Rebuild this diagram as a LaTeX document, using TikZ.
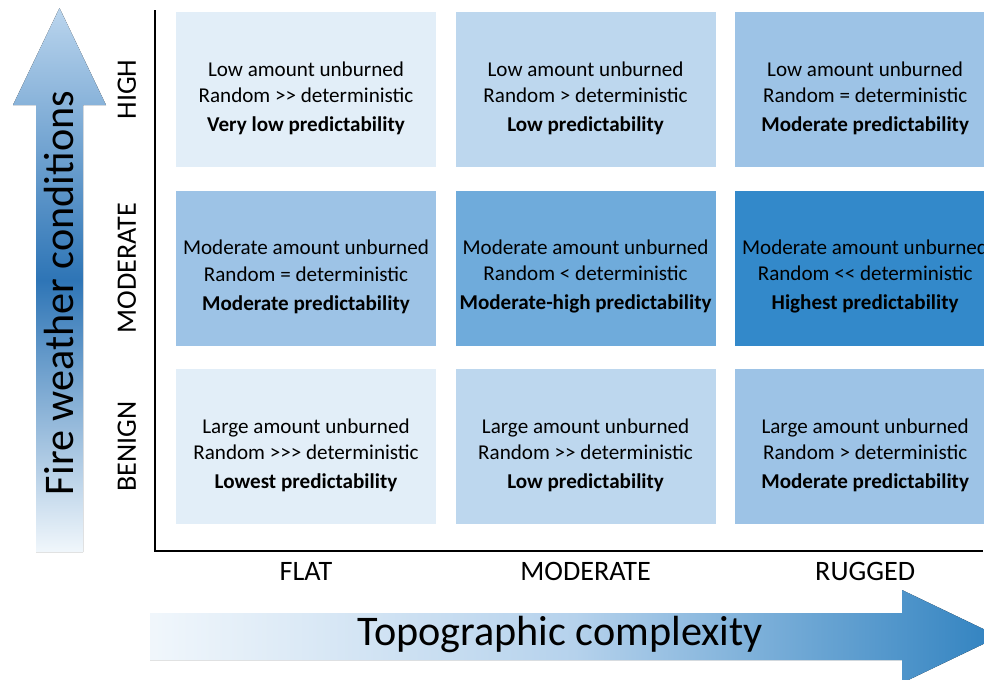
\documentclass[tikz,border=0pt]{standalone}
\usepackage{fontspec}
\setmainfont{Carlito}[Ligatures=TeXOff]
\usetikzlibrary{positioning}

\definecolor{pale}{HTML}{E2EEF8}
\definecolor{light}{HTML}{BDD7EE}
\definecolor{mid}{HTML}{9DC3E6}
\definecolor{deep}{HTML}{6FABDB}
\definecolor{darkest}{HTML}{3389CA}
\definecolor{shaft}{HTML}{2E75B6}

\newcommand{\cellinfo}[3]{#1\\#2\\[2pt]\textbf{#3}}

\begin{document}
\begin{tikzpicture}[x=0.025cm,y=-0.025cm,node distance=4.4625cm and 6.9875cm,on grid,
  cell/.style={minimum width=6.5cm,minimum height=3.875cm,inner sep=0pt},
  celltext/.style={align=center,yshift=-0.22cm,font=\fontsize{15}{18.6}\selectfont},
  level/.style={font=\fontsize{20}{24}\selectfont},
  axisname/.style={font=\fontsize{30}{36}\selectfont}]
\useasboundingbox (0,0) rectangle (984,679);
\clip (0,0) rectangle (984,679);

% shaded arrows
\fill[top color=mid!70, bottom color=pale!50, middle color=shaft]
  (36,552) -- (36,105) -- (13,105) -- (59.5,8) -- (106,105) -- (83,105) -- (83,552) -- cycle;
\fill[left color=pale!50, right color=darkest!95!black, middle color=mid!75]
  (150,613) -- (902,613) -- (902,590) -- (999,636.5) -- (902,683) -- (902,660) -- (150,660) -- cycle;
\node[axisname, rotate=90] (weather) at (59.5,293) {Fire weather conditions};
\node[axisname] (topo) at (560,634) {Topographic complexity};

% grid of cells
\node[cell, fill=pale, label={[celltext]center:\cellinfo{Low amount unburned}{Random >> deterministic}{Very low predictability}}]
  (h_flat) at (306,89.5) {};
\node[cell, fill=light, label={[celltext]center:\cellinfo{Low amount unburned}{Random > deterministic}{Low predictability}}]
  (h_mod) [right=of h_flat] {};
\node[cell, fill=mid, label={[celltext]center:\cellinfo{Low amount unburned}{Random = deterministic}{Moderate predictability}}]
  (h_rug) [right=of h_mod] {};

\node[cell, fill=mid, label={[celltext]center:\cellinfo{Moderate amount unburned}{Random = deterministic}{Moderate predictability}}]
  (m_flat) [below=of h_flat] {};
\node[cell, fill=deep, label={[celltext]center:\cellinfo{Moderate amount unburned}{Random < deterministic}{Moderate-high predictability}}]
  (m_mod) [right=of m_flat] {};
\node[cell, fill=darkest, label={[celltext]center:\cellinfo{Moderate amount unburned}{Random << deterministic}{Highest predictability}}]
  (m_rug) [right=of m_mod] {};

\node[cell, fill=pale, label={[celltext]center:\cellinfo{Large amount unburned}{Random >>> deterministic}{Lowest predictability}}]
  (b_flat) [below=of m_flat] {};
\node[cell, fill=light, label={[celltext]center:\cellinfo{Large amount unburned}{Random >> deterministic}{Low predictability}}]
  (b_mod) [right=of b_flat] {};
\node[cell, fill=mid, label={[celltext]center:\cellinfo{Large amount unburned}{Random > deterministic}{Moderate predictability}}]
  (b_rug) [right=of b_mod] {};

% axis levels
\node[level, rotate=90] (l_high) [left=4.475cm of h_flat] {HIGH};
\node[level, rotate=90] (l_mod) [left=4.475cm of m_flat] {MODERATE};
\node[level, rotate=90] (l_benign) [left=4.475cm of b_flat] {BENIGN};
\node[level] (c_flat) [below=3.11cm of b_flat] {FLAT};
\node[level] (c_mod) [below=3.11cm of b_mod] {MODERATE};
\node[level] (c_rug) [below=3.11cm of b_rug] {RUGGED};

\coordinate (top) at (155,10);
\coordinate (origin) at (155,551);
\coordinate (far) at (983,551);
\draw[line width=1.8pt] (top) -- (origin) -- (far);
\end{tikzpicture}
\end{document}
